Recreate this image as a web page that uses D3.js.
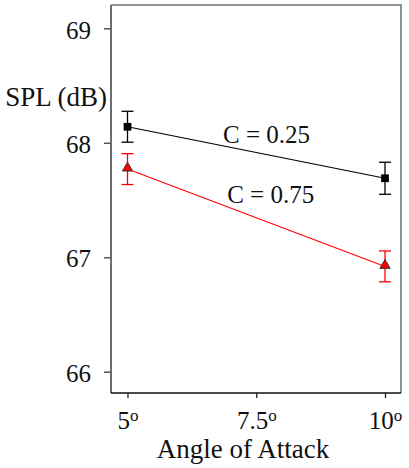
<!DOCTYPE html>
<html>
<head>
<meta charset="utf-8">
<script src="https://cdn.jsdelivr.net/npm/d3@7"></script>
<style>
  body { margin: 0; background: #fff; }
</style>
</head>
<body>
<svg id="chart" width="409" height="468"></svg>
<script>
// angle of attack (deg)
const angles = [5, 10];
const xTicks = [5, 7.5, 10];
const yTicks = [66, 67, 68, 69];

// mean SPL and error half-width for each chord setting
const seriesNames = ['C = 0.25', 'C = 0.75'];
const splC025 = [68.14, 67.69];
const errC025 = [0.135, 0.14];
const splC075 = [67.77, 66.92];
const errC075 = [0.135, 0.135];

const FONT = '"Liberation Serif"';
const width = 409;
const height = 468;
const margin = { top: 5, right: 8, bottom: 75, left: 111 };

const svg = d3.select('#chart');

const x = d3.scaleLinear().domain([5, 10]).range([127.5, 385]);
const y = d3.scaleLinear().domain([66, 69]).range([371.7, 28.3]);

const plotRight = width - margin.right;
const plotBottom = height - margin.bottom;

// frame (top + right edges in grey)
svg.append('path')
  .attr('d', `M${margin.left},${margin.top}H${plotRight}V${plotBottom}`)
  .attr('fill', 'none')
  .attr('stroke', '#6e6e6e')
  .attr('stroke-width', 1.5);

// y axis
const yAxis = svg.append('g')
  .attr('transform', `translate(${margin.left},0)`)
  .call(d3.axisLeft(y).tickValues(yTicks).tickFormat(d3.format('d')).tickSize(7).tickPadding(13));
yAxis.attr('font-family', null).attr('font-size', null);
yAxis.select('.domain')
  .attr('d', `M0,${margin.top}V${plotBottom}`)
  .attr('stroke', '#6e6e6e')
  .attr('stroke-width', 2);
yAxis.selectAll('.tick line').attr('stroke', '#555').attr('stroke-width', 1.5);
yAxis.selectAll('.tick text')
  .style('font-family', FONT)
  .attr('font-size', 25)
  .attr('fill', '#111')
  .attr('dy', '0.39em');

// x axis
const xAxis = svg.append('g')
  .attr('transform', `translate(0,${plotBottom})`)
  .call(d3.axisBottom(x).tickValues(xTicks).tickFormat(() => '').tickSize(5));
xAxis.attr('font-family', null).attr('font-size', null);
xAxis.select('.domain')
  .attr('d', `M${margin.left},0H${plotRight}`)
  .attr('stroke', '#111')
  .attr('stroke-width', 1.5);
xAxis.selectAll('.tick line').attr('stroke', '#111').attr('stroke-width', 1.2);

const xLabels = xAxis.selectAll('.tick').append('text')
  .attr('y', 36)
  .attr('fill', '#111')
  .style('font-family', FONT)
  .attr('font-size', 25)
  .attr('text-anchor', 'middle');
xLabels.append('tspan').text(d => d);
xLabels.append('tspan')
  .attr('font-size', 17)
  .attr('dy', -8)
  .text('o');

// axis titles
svg.append('text')
  .attr('x', 243)
  .attr('y', 458)
  .attr('text-anchor', 'middle')
  .style('font-family', FONT)
  .attr('font-size', 27)
  .attr('fill', '#111')
  .text('Angle of Attack');

svg.append('text')
  .attr('x', 107)
  .attr('y', 106)
  .attr('text-anchor', 'end')
  .style('font-family', FONT)
  .attr('font-size', 27)
  .attr('fill', '#111')
  .text('SPL (dB)');

const series = [
  { name: seriesNames[0], values: splC025, errs: errC025, color: '#000', marker: 'square' },
  { name: seriesNames[1], values: splC075, errs: errC075, color: '#f00', marker: 'triangle' }
];

const line = d3.line()
  .x((d, i) => x(angles[i]))
  .y(d => y(d));

series.forEach((s) => {
  const g = svg.append('g');

  g.append('path')
    .datum(s.values)
    .attr('fill', 'none')
    .attr('stroke', s.color)
    .attr('stroke-width', 1.1)
    .attr('d', line);

  // error bars
  const eb = g.selectAll('.err')
    .data(s.values)
    .enter().append('g')
    .attr('stroke', s.color)
    .attr('stroke-width', 1.3);
  eb.append('line')
    .attr('x1', (d, i) => x(angles[i]))
    .attr('x2', (d, i) => x(angles[i]))
    .attr('y1', (d, i) => y(d + s.errs[i]))
    .attr('y2', (d, i) => y(d - s.errs[i]));
  eb.append('line')
    .attr('x1', (d, i) => x(angles[i]) - 6)
    .attr('x2', (d, i) => x(angles[i]) + 6)
    .attr('y1', (d, i) => y(d + s.errs[i]))
    .attr('y2', (d, i) => y(d + s.errs[i]));
  eb.append('line')
    .attr('x1', (d, i) => x(angles[i]) - 6)
    .attr('x2', (d, i) => x(angles[i]) + 6)
    .attr('y1', (d, i) => y(d - s.errs[i]))
    .attr('y2', (d, i) => y(d - s.errs[i]));

  // markers
  const sym = s.marker === 'square' ? d3.symbolSquare : d3.symbolTriangle;
  g.selectAll('.pt')
    .data(s.values)
    .enter().append('path')
    .attr('transform', (d, i) => `translate(${x(angles[i])},${y(d) + (s.marker === 'triangle' ? -1 : 0)})`)
    .attr('d', d3.symbol().type(sym).size(s.marker === 'square' ? 60 : 45))
    .attr('fill', s.color)
    .attr('stroke', s.marker === 'triangle' ? '#333' : 'none')
    .attr('stroke-width', 1);
});

// series labels
svg.append('text')
  .attr('x', x(7.7))
  .attr('y', y(68.0))
  .attr('text-anchor', 'middle')
  .style('font-family', FONT)
  .attr('font-size', 25)
  .attr('fill', '#111')
  .text(seriesNames[0]);

svg.append('text')
  .attr('x', x(7.78))
  .attr('y', y(67.47))
  .attr('text-anchor', 'middle')
  .style('font-family', FONT)
  .attr('font-size', 25)
  .attr('fill', '#111')
  .text(seriesNames[1]);
</script>
</body>
</html>
